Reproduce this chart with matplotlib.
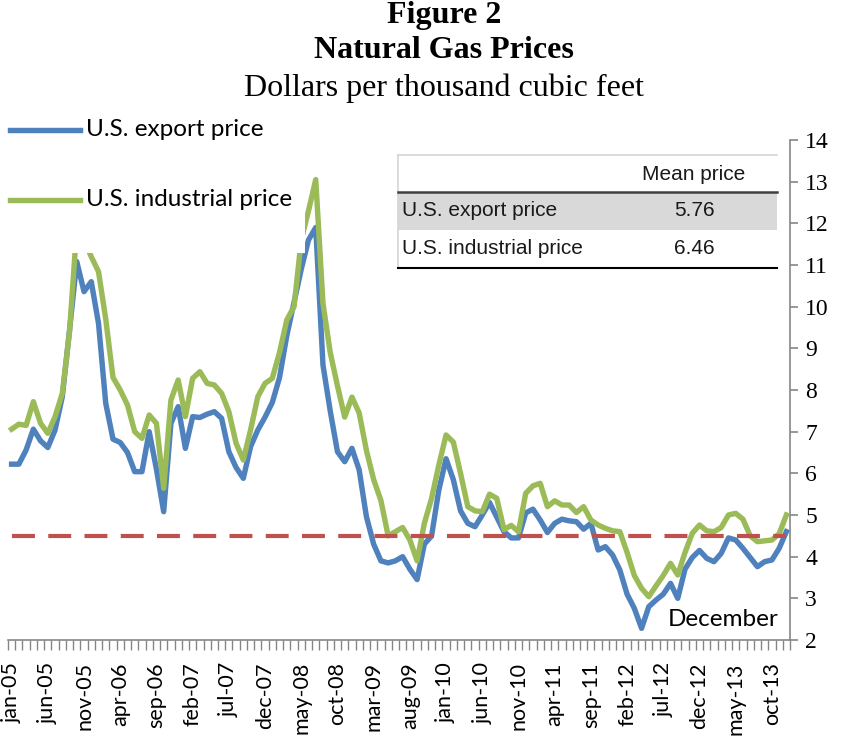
import matplotlib
matplotlib.use("Agg")
import matplotlib.pyplot as plt
from matplotlib.patches import Rectangle
from matplotlib.lines import Line2D
import numpy as np

# ---------------- data ----------------
months = ["jan", "feb", "mar", "apr", "may", "jun", "jul", "aug", "sep", "oct", "nov", "dec"]
years = list(range(5, 14))
categories = [f"{m}-{y:02d}" for y in years for m in months]  # jan-05 .. dec-13

export_price = [
    6.22, 6.22, 6.56, 7.06, 6.78, 6.62, 7.04, 7.84, 9.44, 11.08, 10.36, 10.6,
    9.6, 7.68, 6.82, 6.74, 6.5, 6.04, 6.04, 7.0, 6.1, 5.08, 7.2, 7.6,
    6.6, 7.36, 7.34, 7.42, 7.48, 7.32, 6.52, 6.14, 5.88, 6.64, 7.04, 7.35,
    7.7, 8.3, 9.3, 10.1, 10.9, 11.6, 11.9, 8.6, 7.5, 6.52, 6.28, 6.6,
    6.08, 4.96, 4.3, 3.9, 3.85, 3.9, 4.0, 3.7, 3.45, 4.3, 4.5, 5.6,
    6.35, 5.85, 5.1, 4.8, 4.72, 5.0, 5.3, 4.95, 4.6, 4.45, 4.45, 5.05,
    5.14, 4.88, 4.58, 4.8, 4.9, 4.86, 4.84, 4.66, 4.8, 4.16, 4.24, 4.04,
    3.68, 3.1, 2.76, 2.28, 2.8, 2.96, 3.1, 3.36, 3.0, 3.7, 3.98, 4.15,
    3.96, 3.88, 4.08, 4.45, 4.4, 4.2, 3.98, 3.76, 3.88, 3.92, 4.2, 4.6,
]
industrial_price = [
    7.06, 7.18, 7.15, 7.72, 7.2, 6.96, 7.36, 7.92, 9.4, 11.9, 11.6, 11.2,
    10.84, 9.7, 8.3, 8.0, 7.64, 7.0, 6.84, 7.4, 7.2, 5.64, 7.76, 8.24,
    7.36, 8.28, 8.44, 8.16, 8.12, 7.92, 7.48, 6.72, 6.32, 7.04, 7.84, 8.16,
    8.28, 8.9, 9.68, 10.0, 11.6, 12.3, 13.05, 10.08, 8.9, 8.1, 7.35, 7.83,
    7.45, 6.55, 5.85, 5.35, 4.5, 4.6, 4.7, 4.4, 3.9, 4.8, 5.4, 6.2,
    6.92, 6.75, 6.0, 5.2, 5.1, 5.08, 5.5, 5.4, 4.65, 4.75, 4.6, 5.52,
    5.7, 5.76, 5.2, 5.34, 5.24, 5.24, 5.06, 5.2, 4.88, 4.76, 4.68, 4.62,
    4.6, 4.1, 3.55, 3.24, 3.04, 3.3, 3.55, 3.84, 3.56, 4.1, 4.56, 4.76,
    4.62, 4.6, 4.7, 5.0, 5.04, 4.9, 4.5, 4.36, 4.38, 4.4, 4.55, 5.0,
]
reference_level = 4.5
series_names = ["U.S. export price", "U.S. industrial price"]
mean_prices = ["5.76", "6.46"]
y_ticks = list(range(2, 15))
label_step = 5

# ---------------- style ----------------
BLUE = "#4F81BD"
GREEN = "#9BBB59"
RED = "#C0504D"
AXIS = "#868686"
W, H = 849, 740
LW = 3.9


def fx(px):
    return px / W


def fy(py):
    return 1 - py / H


fig = plt.figure(figsize=(W / 100, H / 100), dpi=100)
fig.patch.set_facecolor("white")
ax = fig.add_axes([fx(8), fy(640), fx(790) - fx(8), fy(140) - fy(640)])

x = np.arange(len(categories))
ax.plot(x, export_price, color=BLUE, lw=LW, solid_joinstyle="round", zorder=2)
ax.plot(x, industrial_price, color=GREEN, lw=LW, solid_joinstyle="round", zorder=3)
ax.plot(x, [reference_level] * len(x), color=RED, lw=3.0, dashes=(5.5, 3.2), zorder=4)

ax.set_xlim(-0.5, len(categories) - 0.5)
ax.set_ylim(2, 14)

for s in ["left", "top"]:
    ax.spines[s].set_visible(False)
for s in ["right", "bottom"]:
    ax.spines[s].set_color(AXIS)
    ax.spines[s].set_linewidth(1.2)

ax.yaxis.tick_right()
ax.set_yticks(y_ticks)
ax.set_yticklabels([str(t) for t in y_ticks], fontfamily="Liberation Serif", fontsize=17)
ax.tick_params(axis="y", direction="out", length=6, color=AXIS, width=1.2, pad=5)

ax.set_xticks(x[::label_step])
ax.set_xticklabels(categories[::label_step], rotation=90, fontfamily="Lato", fontsize=15.5)
ax.set_xticks(np.arange(-0.5, len(categories), 1), minor=True)
ax.tick_params(axis="x", which="major", length=0, pad=16)
ax.tick_params(axis="x", which="minor", direction="out", length=7, color=AXIS, width=1)

ax.text(0.914, 0.04, "December", transform=ax.transAxes, ha="center", va="center",
        fontfamily="Lato", fontsize=17.5)

# ---------------- legend (white box overlapping the lines) ----------------
ax.add_patch(Rectangle((0, fy(253)), fx(305), fy(110) - fy(253), transform=fig.transFigure,
                       facecolor="white", edgecolor="none", zorder=6, clip_on=False))
for name, col, py in [(series_names[0], BLUE, 130), (series_names[1], GREEN, 200)]:
    fig.add_artist(Line2D([fx(10), fx(80)], [fy(py), fy(py)], color=col, lw=LW,
                          transform=fig.transFigure, zorder=7))
    fig.text(fx(86), fy(py), name, ha="left", va="center", fontfamily="Lato",
             fontsize=17.5, zorder=7)

# ---------------- table ----------------
tx0, tx1 = 398, 777
fig.add_artist(Rectangle((fx(tx0), fy(268)), fx(tx1) - fx(tx0), fy(155) - fy(268),
                         transform=fig.transFigure, facecolor="white", edgecolor="none", zorder=6))
fig.add_artist(Rectangle((fx(tx0), fy(230)), fx(tx1) - fx(tx0), fy(192) - fy(230),
                         transform=fig.transFigure, facecolor="#D9D9D9", edgecolor="none", zorder=6))
fig.add_artist(Line2D([fx(tx0), fx(tx1)], [fy(155), fy(155)], color="#D4D4D4", lw=1.2,
                      transform=fig.transFigure, zorder=7))
fig.add_artist(Line2D([fx(tx0), fx(tx0)], [fy(155), fy(268)], color="#D4D4D4", lw=1.2,
                      transform=fig.transFigure, zorder=7))
fig.add_artist(Line2D([fx(tx0), fx(tx1)], [fy(192), fy(192)], color="#404040", lw=1.8,
                      transform=fig.transFigure, zorder=7))
fig.add_artist(Line2D([fx(tx0), fx(tx1)], [fy(268), fy(268)], color="#000000", lw=1.5,
                      transform=fig.transFigure, zorder=7))
tfont = dict(fontfamily="Liberation Sans", fontsize=15, zorder=8, color="#1a1a1a")
fig.text(fx(694), fy(174), "Mean price", ha="center", va="center", **tfont)
for name, val, py in [(series_names[0], mean_prices[0], 211), (series_names[1], mean_prices[1], 249)]:
    fig.text(fx(402), fy(py), name, ha="left", va="center", **tfont)
    fig.text(fx(694), fy(py), val, ha="center", va="center", **tfont)

# ---------------- titles ----------------
fig.text(fx(444), fy(15), "Figure 2", ha="center", va="center", fontfamily="Liberation Serif",
         fontweight="bold", fontsize=23)
fig.text(fx(444), fy(50), "Natural Gas Prices", ha="center", va="center",
         fontfamily="Liberation Serif", fontweight="bold", fontsize=23)
fig.text(fx(444), fy(88), "Dollars per thousand cubic feet", ha="center", va="center",
         fontfamily="Liberation Serif", fontsize=23)

fig.savefig("out.png", dpi=100, facecolor="white")
